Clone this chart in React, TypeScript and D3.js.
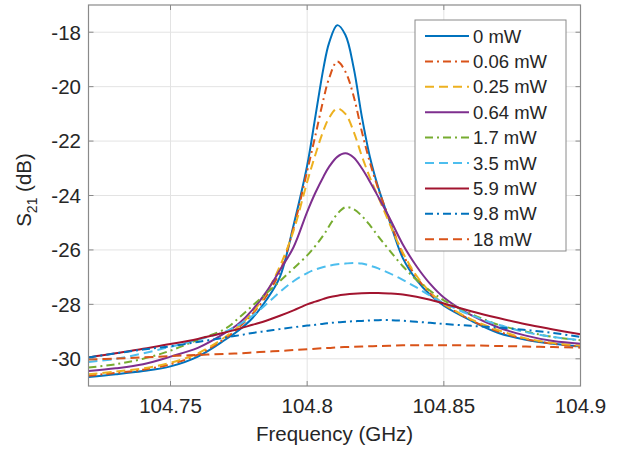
import React from "react";
import * as d3 from "d3";

const freq = [104.72, 104.73, 104.74, 104.75, 104.76, 104.77, 104.775, 104.78, 104.785, 104.79, 104.795, 104.80, 104.803, 104.806, 104.808, 104.811, 104.814, 104.817, 104.82, 104.823, 104.826, 104.83, 104.835, 104.84, 104.845, 104.85, 104.86, 104.87, 104.88, 104.89, 104.90];

const p0 = [-30.67, -30.57, -30.45, -30.28, -29.92, -29.3, -28.95, -28.5, -27.85, -27.0, -25.1, -22.9, -21.1, -19.3, -18.4, -17.74, -18.1, -19.3, -21.1, -22.6, -23.7, -24.9, -26.3, -27.1, -27.65, -28.05, -28.6, -29.05, -29.3, -29.45, -29.55];
const p006 = [-30.62, -30.52, -30.4, -30.2, -29.85, -29.25, -28.85, -28.35, -27.7, -26.8, -25.2, -23.1, -21.8, -20.45, -19.7, -19.08, -19.45, -20.35, -21.65, -22.8, -23.75, -24.85, -26.15, -27.0, -27.6, -28.0, -28.58, -29.0, -29.28, -29.45, -29.55];
const p025 = [-30.57, -30.47, -30.35, -30.15, -29.8, -29.2, -28.8, -28.3, -27.6, -26.6, -25.3, -23.5, -22.5, -21.6, -21.15, -20.8, -21.0, -21.65, -22.55, -23.35, -24.05, -25.0, -26.1, -26.95, -27.55, -27.98, -28.55, -28.95, -29.25, -29.42, -29.52];
const p064 = [-30.45, -30.35, -30.2, -29.92, -29.6, -29.05, -28.7, -28.2, -27.55, -26.75, -25.9, -24.6, -23.9, -23.3, -22.95, -22.58, -22.45, -22.6, -23.0, -23.5, -24.05, -24.8, -25.8, -26.6, -27.25, -27.75, -28.4, -28.85, -29.15, -29.35, -29.45];
const p17 = [-30.32, -30.2, -30.0, -29.7, -29.3, -28.9, -28.5, -28.05, -27.6, -27.15, -26.68, -26.2, -25.85, -25.45, -25.13, -24.68, -24.43, -24.5, -24.75, -25.1, -25.5, -26.0, -26.6, -27.1, -27.5, -27.85, -28.35, -28.75, -29.0, -29.2, -29.32];
const p35 = [-30.12, -30.0, -29.8, -29.56, -29.3, -29.0, -28.75, -28.42, -28.0, -27.55, -27.15, -26.85, -26.72, -26.63, -26.58, -26.53, -26.5, -26.48, -26.5, -26.58, -26.68, -26.85, -27.1, -27.38, -27.68, -27.95, -28.4, -28.75, -29.02, -29.2, -29.32];
const p59 = [-29.95, -29.8, -29.63, -29.46, -29.27, -29.03, -28.9, -28.75, -28.6, -28.42, -28.22, -28.0, -27.9, -27.8, -27.74, -27.68, -27.64, -27.61, -27.59, -27.58, -27.58, -27.6, -27.64, -27.72, -27.83, -27.97, -28.25, -28.5, -28.73, -28.92, -29.1];
const p98 = [-29.95, -29.8, -29.66, -29.54, -29.38, -29.22, -29.14, -29.05, -28.98, -28.91, -28.84, -28.78, -28.75, -28.71, -28.69, -28.66, -28.64, -28.62, -28.61, -28.59, -28.58, -28.58, -28.6, -28.64, -28.68, -28.72, -28.79, -28.85, -28.94, -29.05, -29.2];
const p18 = [-30.03, -29.99, -29.95, -29.9, -29.86, -29.82, -29.8, -29.77, -29.74, -29.71, -29.68, -29.65, -29.63, -29.61, -29.6, -29.58, -29.57, -29.56, -29.55, -29.54, -29.53, -29.52, -29.5, -29.5, -29.5, -29.5, -29.51, -29.53, -29.55, -29.57, -29.59];

const seriesLabels = ["0 mW", "0.06 mW", "0.25 mW", "0.64 mW", "1.7 mW", "3.5 mW", "5.9 mW", "9.8 mW", "18 mW"];
const seriesValues = [p0, p006, p025, p064, p17, p35, p59, p98, p18];
const seriesColors = ["#0072BD", "#D95319", "#EDB120", "#7E2F8E", "#77AC30", "#4DBEEE", "#A2142F", "#0072BD", "#D95319"];
const seriesStyles = ["solid", "dashdot", "dashed", "solid", "dashdot", "dashed", "solid", "dashdot", "dashed"];

const xTicks = [104.75, 104.8, 104.85, 104.9];
const yTicks = [-30, -28, -26, -24, -22, -20, -18];

const W = 634, H = 451;
const L = 88.5, R = 580.5, T = 5, B = 386;
const FONT = "'Liberation Sans', Arial, Helvetica, sans-serif";

const dashFor = (s: string) => (s === "dashed" ? "9 5" : s === "dashdot" ? "8 4 2 4" : undefined);

export default function App() {
  const x = d3.scaleLinear().domain([104.72, 104.9]).range([L, R]);
  const y = d3.scaleLinear().domain([-31, -17]).range([B, T]);
  const line = d3
    .line<number>()
    .x((_, i) => x(freq[i]))
    .y((d) => y(d))
    .curve(d3.curveCatmullRom.alpha(0.5));

  const legX = 415, legY = 20, legW = 151, legH = 231;
  const rowH = 25.4, row0 = 36;
  const axisColor = "#8a8a8a";
  const textColor = "#262626";
  const tick = 5;

  return (
    <svg width={W} height={H} style={{ position: "absolute", left: 0, top: 0, background: "#fff" }}>
      <defs>
        <clipPath id="plotclip">
          <rect x={L} y={T} width={R - L} height={B - T} />
        </clipPath>
      </defs>
      <rect x={L} y={T} width={R - L} height={B - T} fill="#fff" />
      {xTicks.map((t) => (
        <line key={"gx" + t} x1={x(t)} x2={x(t)} y1={T} y2={B} stroke="#e3e3e3" strokeWidth={1} />
      ))}
      {yTicks.map((t) => (
        <line key={"gy" + t} x1={L} x2={R} y1={y(t)} y2={y(t)} stroke="#e3e3e3" strokeWidth={1} />
      ))}
      <g clipPath="url(#plotclip)">
        {seriesValues.map((vals, i) => (
          <path
            key={"s" + i}
            d={line(vals) || ""}
            fill="none"
            stroke={seriesColors[i]}
            strokeWidth={2}
            strokeDasharray={dashFor(seriesStyles[i])}
            strokeLinejoin="round"
          />
        ))}
      </g>
      <rect x={L} y={T} width={R - L} height={B - T} fill="none" stroke={axisColor} strokeWidth={1.2} />
      {xTicks.map((t) => (
        <g key={"tx" + t}>
          <line x1={x(t)} x2={x(t)} y1={B} y2={B - tick} stroke={axisColor} />
          <line x1={x(t)} x2={x(t)} y1={T} y2={T + tick} stroke={axisColor} />
          <text x={x(t)} y={413} textAnchor="middle" fontFamily={FONT} fontSize={20.5} fill={textColor}>
            {String(t)}
          </text>
        </g>
      ))}
      {yTicks.map((t) => (
        <g key={"ty" + t}>
          <line x1={L} x2={L + tick} y1={y(t)} y2={y(t)} stroke={axisColor} />
          <line x1={R} x2={R - tick} y1={y(t)} y2={y(t)} stroke={axisColor} />
          <text x={81} y={y(t)} dy="0.36em" textAnchor="end" fontFamily={FONT} fontSize={20.5} fill={textColor}>
            {String(t)}
          </text>
        </g>
      ))}
      <text x={(L + R) / 2} y={441} textAnchor="middle" fontFamily={FONT} fontSize={20.5} fill={textColor}>
        Frequency (GHz)
      </text>
      <text
        transform={`translate(31,190) rotate(-90)`}
        textAnchor="middle"
        fontFamily={FONT}
        fontSize={20.5}
        fill={textColor}
      >
        S<tspan fontSize={14} dy={6}>21</tspan>
        <tspan dy={-6}> (dB)</tspan>
      </text>
      <rect x={legX} y={legY} width={legW} height={legH} fill="#fff" stroke={axisColor} strokeWidth={1} />
      {seriesLabels.map((lab, i) => {
        const cy = row0 + i * rowH;
        return (
          <g key={"lg" + i}>
            <line
              x1={425}
              x2={469}
              y1={cy}
              y2={cy}
              stroke={seriesColors[i]}
              strokeWidth={2}
              strokeDasharray={dashFor(seriesStyles[i])}
            />
            <text x={473} y={cy} dy="0.36em" fontFamily={FONT} fontSize={18.5} fill={textColor}>
              {lab}
            </text>
          </g>
        );
      })}
    </svg>
  );
}
